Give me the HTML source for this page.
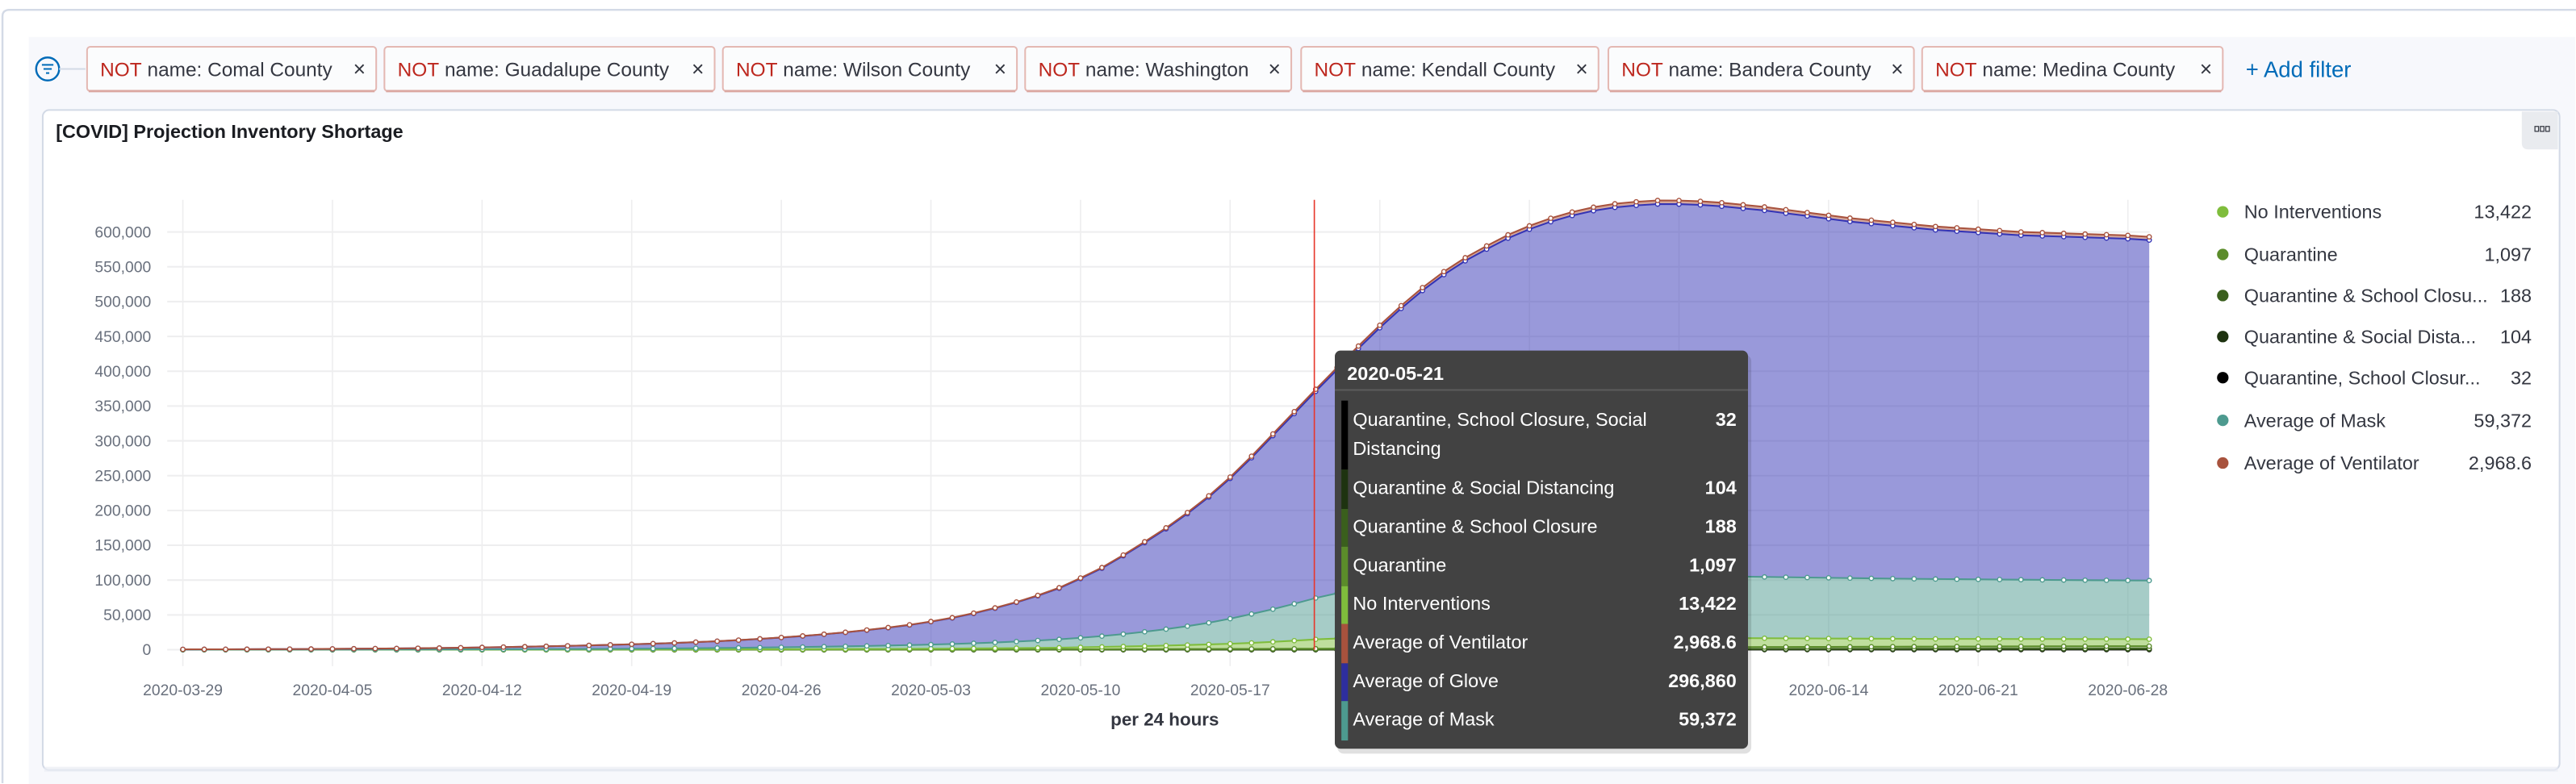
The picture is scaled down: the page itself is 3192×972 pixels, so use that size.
<!DOCTYPE html>
<html><head><meta charset="utf-8">
<style>
html,body{margin:0;padding:0;background:#fff;}
svg{display:block;font-family:"Liberation Sans",sans-serif;}
</style></head>
<body>
<svg id="root" width="3192" height="972" viewBox="0 0 1568 477.5" preserveAspectRatio="none" xmlns="http://www.w3.org/2000/svg">
  <rect x="0" y="0" width="1568" height="477.5" fill="#fff"/>
  <path d="M1.5,477 L1.5,10 Q1.5,6 6,6 L1568,6" fill="none" stroke="#d3dae6" stroke-width="1.2"/>
  <rect x="17.5" y="22.5" width="1550" height="455" fill="#f7f8fc"/>
  <g>
    <circle cx="29" cy="42" r="7" fill="none" stroke="#006bb8" stroke-width="1.2"/>
    <line x1="25.5" y1="39.5" x2="32.5" y2="39.5" stroke="#006bb8" stroke-width="1"/>
    <line x1="26.5" y1="42" x2="31.5" y2="42" stroke="#006bb8" stroke-width="1"/>
    <line x1="28" y1="44.5" x2="30" y2="44.5" stroke="#006bb8" stroke-width="1"/>
    <line x1="36" y1="42" x2="52" y2="42" stroke="#d3dae6" stroke-width="1"/>
  </g>
  <g id="pills"></g>
  <text x="1367" y="47" font-size="13.5" fill="#006bb8">+ Add filter</text>

  <rect x="26" y="67" width="1532" height="402" rx="4" fill="#fff" stroke="#d3dae6" stroke-width="1"/>
  <rect x="27" y="467" width="1530" height="3" fill="#e9edf3" opacity="0.7"/>
  <text x="34" y="84" font-size="11.5" font-weight="bold" fill="#1a1c21">[COVID] Projection Inventory Shortage</text>
  <g>
    <path d="M1535,68 L1557,68 L1557,91 L1539,91 Q1535,91 1535,87 Z" fill="#e9ebef"/>
    <rect x="1543" y="77" width="2.2" height="3" fill="none" stroke="#343741" stroke-width="0.6"/>
    <rect x="1546.3" y="77" width="2.2" height="3" fill="none" stroke="#343741" stroke-width="0.6"/>
    <rect x="1549.6" y="77" width="2.2" height="3" fill="none" stroke="#343741" stroke-width="0.6"/>
  </g>
  <g id="chart"></g>
  <g id="legend"></g>
  <g id="tooltip"></g>
</svg>
<script>
// ---- data (values in thousands) ----
const startDate = "2020-03-29";
const yTicks = [0,50000,100000,150000,200000,250000,300000,350000,400000,450000,500000,550000,600000];
const xTickLabels = ["2020-03-29","2020-04-05","2020-04-12","2020-04-19","2020-04-26","2020-05-03","2020-05-10","2020-05-17","2020-05-24","2020-05-31","2020-06-07","2020-06-14","2020-06-21","2020-06-28"];
const seriesNames = ["Quarantine, School Closure, Social Distancing","Quarantine & Social Distancing","Quarantine & School Closure","Quarantine","No Interventions","Average of Mask","Average of Glove","Average of Ventilator"];
const qscsd = [0,0,0,0,0,0,0,0,0,0,0,0,0,0,0,0,0,0,0,0,0,0,0,0,0,0,0,0,
 0,0,0,0,0.01,0.01,0.01,0.01,0.01,0.01,0.01,0.01,0.01,0.01,
 0.01,0.01,0.02,0.02,0.02,0.02,0.02,0.02,0.03,0.03,0.03,0.032,0.035,0.038,
 0.04,0.042,0.045,0.048,0.05,0.052,0.055,0.058,0.06,0.062,0.065,0.068,0.07,0.072,
 0.075,0.078,0.08,0.082,0.085,0.088,0.09,0.092,0.095,0.098,0.1,0.102,0.105,0.108,
 0.11,0.112,0.115,0.118,0.12,0.122,0.125,0.128,0.13];
const qsd = [0,0,0,0,0,0,0,0,0,0,0,0,0,0,
 0,0,0,0,0,0,0.01,0.01,0.01,0.01,0.01,0.01,0.01,0.01,
 0.01,0.01,0.01,0.01,0.02,0.02,0.02,0.02,0.02,0.02,0.03,0.03,0.03,0.03,
 0.04,0.04,0.05,0.05,0.06,0.06,0.07,0.07,0.08,0.09,0.1,0.104,0.11,0.12,
 0.13,0.14,0.15,0.16,0.17,0.18,0.19,0.2,0.21,0.22,0.23,0.24,0.25,0.26,
 0.27,0.28,0.29,0.3,0.31,0.32,0.33,0.34,0.35,0.36,0.37,0.38,0.39,0.4,
 0.41,0.42,0.43,0.44,0.45,0.46,0.47,0.48,0.49];
const qsc = [0,0,0,0,0,0,0,0,0,0,0,0,0.01,0.01,
 0.01,0.01,0.01,0.01,0.01,0.01,0.01,0.01,0.01,0.01,0.01,0.01,0.02,0.02,
 0.02,0.02,0.02,0.02,0.03,0.03,0.03,0.04,0.04,0.04,0.05,0.05,0.06,0.06,
 0.07,0.08,0.08,0.09,0.1,0.11,0.12,0.13,0.14,0.15,0.17,0.188,0.2,0.22,
 0.24,0.26,0.28,0.3,0.32,0.34,0.36,0.38,0.4,0.42,0.44,0.46,0.48,0.5,
 0.52,0.54,0.56,0.58,0.6,0.62,0.64,0.66,0.68,0.7,0.72,0.74,0.76,0.78,
 0.8,0.82,0.84,0.86,0.88,0.9,0.92,0.94,0.96];
const quarantine = [0,0,0,0,0,0.01,0.01,0.01,0.01,0.01,0.01,0.02,0.02,0.02,
 0.02,0.02,0.03,0.03,0.03,0.04,0.04,0.04,0.05,0.05,0.06,0.06,0.07,0.08,
 0.09,0.1,0.11,0.12,0.13,0.15,0.17,0.19,0.21,0.24,0.27,0.3,0.34,0.38,
 0.43,0.48,0.53,0.59,0.65,0.72,0.79,0.86,0.93,1.0,1.05,1.097,1.2,1.3,
 1.4,1.5,1.6,1.7,1.8,1.9,2.0,2.1,2.2,2.3,2.4,2.45,2.5,2.6,
 2.65,2.7,2.75,2.8,2.85,2.9,2.95,3.0,3.05,3.1,3.15,3.2,3.25,3.3,
 3.33,3.36,3.39,3.42,3.45,3.47,3.49,3.5,3.52];
const noInterventions = [0.01,0.01,0.01,0.02,0.02,0.02,0.03,0.03,0.04,0.04,0.05,0.06,0.07,0.08,
 0.09,0.1,0.12,0.14,0.16,0.18,0.2,0.23,0.26,0.3,0.34,0.38,0.43,0.49,
 0.55,0.62,0.7,0.78,0.87,0.97,1.08,1.2,1.35,1.5,1.7,1.9,2.15,2.4,
 2.9,3.4,3.9,4.5,5.1,5.8,6.6,7.5,8.6,10.0,11.6,13.422,14.5,15.3,
 15.9,16.3,16.5,16.5,16.4,16.2,16.0,15.7,15.4,15.1,14.8,14.5,14.2,13.9,
 13.6,13.3,13.0,12.8,12.6,12.4,12.2,12.0,11.8,11.6,11.4,11.2,11.0,10.9,
 10.8,10.7,10.6,10.5,10.4,10.3,10.2,10.1,10.0];
const mask = [0.05,0.06,0.07,0.08,0.09,0.1,0.12,0.14,0.16,0.19,0.22,0.26,0.3,0.35,
 0.4,0.47,0.55,0.64,0.74,0.86,1.0,1.15,1.3,1.5,1.7,1.95,2.2,2.5,
 2.8,3.1,3.5,3.9,4.3,4.8,5.3,5.9,6.6,7.4,8.3,9.4,10.6,12.0,
 13.6,15.5,17.8,20.5,23.6,27.1,31,36,41.5,47,53,59.372,65,70,
 74.5,78,81,83.5,85.5,87,88,89,89.5,90,90,90,89.8,89.6,
 89.3,89,88.7,88.4,88.1,87.8,87.5,87.2,86.9,86.6,86.4,86.2,86,85.8,
 85.6,85.4,85.2,85,84.8,84.6,84.5,84.3,84.2];
const glove = [0.44,0.48,0.51,0.59,0.68,0.76,0.83,1.01,1.18,1.34,1.5,1.74,1.99,2.32,
 2.75,3.17,3.55,4.04,4.51,5.06,5.69,6.31,7.01,7.76,8.7,9.69,10.96,12.37,
 13.97,15.77,17.76,20.05,22.71,25.58,28.92,32.85,37.43,42.9,49.21,56.3,64.23,73.45,
 85.13,97.56,112.56,128.06,144.1,161.62,180.63,201.42,224.48,249.22,273.26,296.86,320.96,345.71,
 370.17,393.95,416.34,436.56,454.3,469.66,484.53,496.53,507.04,515.57,522.61,527.67,530.95,533.23,
 533.63,533.04,531.56,528.98,526.4,522.84,519.27,515.7,512.13,509.56,506.88,504.2,501.53,499.84,
 498.16,496.43,494.69,493.95,493.21,492.47,491.62,490.88,489.05];
const ventilator = [0.004,0.004,0.005,0.006,0.006,0.007,0.008,0.01,0.011,0.013,0.014,0.017,0.019,0.022,
 0.026,0.03,0.034,0.039,0.044,0.05,0.056,0.062,0.07,0.078,0.087,0.098,0.11,0.125,
 0.14,0.16,0.18,0.2,0.23,0.25,0.29,0.32,0.37,0.42,0.48,0.55,0.62,0.71,
 0.82,0.94,1.09,1.24,1.4,1.58,1.77,1.98,2.22,2.48,2.74,2.9686,3.24,3.49,
 3.73,3.95,4.16,4.34,4.5,4.64,4.77,4.87,4.96,5.03,5.09,5.13,5.15,5.17,
 5.17,5.16,5.14,5.12,5.1,5.06,5.03,5.0,4.97,4.94,4.92,4.9,4.87,4.86,
 4.84,4.82,4.81,4.8,4.79,4.78,4.78,4.77,4.75];
const hoverIndex = 53;
const legendNames = ["No Interventions","Quarantine","Quarantine & School Closu...","Quarantine & Social Dista...","Quarantine, School Closur...","Average of Mask","Average of Ventilator"];
const legendValues = ["13,422","1,097","188","104","32","59,372","2,968.6"];
const tooltipLabels = ["Quarantine & Social Distancing","Quarantine & School Closure","Quarantine","No Interventions","Average of Ventilator","Average of Glove","Average of Mask"];
const tooltipValues = ["32","104","188","1,097","13,422","2,968.6","296,860","59,372"];
const filters = ["Comal County","Guadalupe County","Wilson County","Washington","Kendall County","Bandera County","Medina County"];

const NS="http://www.w3.org/2000/svg";
function mk(tag, attrs, parent){const e=document.createElementNS(NS,tag);for(const k in attrs)e.setAttribute(k,attrs[k]);if(parent)parent.appendChild(e);return e;}

// filter pills
const pillX=[53,234,440,624,792,979,1170], pillW=[176,201,179,162,181,186,183];
const pg=document.getElementById('pills');
filters.forEach((f,i)=>{
  const g=mk('g',{},pg);
  
  
  mk('rect',{x:pillX[i],y:28.5,width:pillW[i],height:27,rx:2,fill:'#fbfcfd',stroke:'#e4b8b3','stroke-width':1},g);
  mk('line',{x1:pillX[i]+1,y1:55.5,x2:pillX[i]+pillW[i]-1,y2:55.5,stroke:'#dba7a1','stroke-width':1.4},g);
  const t=mk('text',{x:pillX[i]+8,y:46.5,'font-size':12,fill:'#343741'},g);
  const n=mk('tspan',{fill:'#bd271e'},t); n.textContent='NOT';
  const r=mk('tspan',{},t); r.textContent=' name: '+f;
  const x=mk('text',{x:pillX[i]+pillW[i]-14,y:46.5,'font-size':13,fill:'#343741'},g); x.textContent='×';
  
  
});

// axes
const X0=111.3, DX=13.01, Y0=395.7, YK=0.000424;
const xs=i=>X0+i*DX;
const ys=v=>Y0-v*YK;
const chart=document.getElementById('chart');
const grid=mk('g',{},chart);


yTicks.forEach(v=>{
  if(v>0) mk('line',{x1:101.8,x2:1308.5,y1:ys(v),y2:ys(v),stroke:'#eeeeef','stroke-width':1},grid);
  const t=mk('text',{x:92,y:ys(v)+3.3,'text-anchor':'end','font-size':9.5,fill:'#69707d'},grid);
  t.textContent=v.toLocaleString('en-US');
  
  
});
xTickLabels.forEach((lab,k)=>{
  const x=xs(k*7);
  mk('line',{x1:x,x2:x,y1:121.7,y2:405.7,stroke:'#eeeeef','stroke-width':0.8},grid);
  const t=mk('text',{x:x,y:423.5,'text-anchor':'middle','font-size':9.5,fill:'#69707d'},grid);
  t.textContent=lab;
  
  
});
mk('line',{x1:101.8,x2:1308.5,y1:Y0,y2:Y0,stroke:'#eeeeef','stroke-width':1},grid);
const at=mk('text',{x:709,y:442,'text-anchor':'middle','font-size':11,'font-weight':'bold',fill:'#343741'},chart);
at.textContent='per 24 hours';



// stacked series
const stack=[
 {k:'qscsd',d:qscsd,c:'#000000'},
 {k:'qsd',d:qsd,c:'#1e3310'},
 {k:'qsc',d:qsc,c:'#3a5f1d'},
 {k:'quarantine',d:quarantine,c:'#5b8c2a'},
 {k:'no-interventions',d:noInterventions,c:'#7fbd3c'},
 {k:'mask',d:mask,c:'#4d9a8f'},
 {k:'glove',d:glove,c:'#3434b5'},
 {k:'ventilator',d:ventilator,c:'#a8523d'}];
const n=glove.length;
let base=new Array(n).fill(0);
const layers=[];
stack.forEach(s=>{
  const top=s.d.map((v,i)=>base[i]+v*1000);
  layers.push({s:s,top:top,bot:base.slice()});
  base=top;
});
layers.forEach(L=>{
  let d='M'+xs(0)+','+ys(L.top[0]);
  for(let i=1;i<n;i++) d+=' L'+xs(i)+','+ys(L.top[i]);
  for(let i=n-1;i>=0;i--) d+=' L'+xs(i)+','+ys(L.bot[i]);
  const a=mk('path',{d:d+'Z',fill:L.s.c,'fill-opacity':0.5,stroke:'none'},chart);
  
  
});
layers.forEach(L=>{
  let d='M'+xs(0)+','+ys(L.top[0]);
  for(let i=1;i<n;i++) d+=' L'+xs(i)+','+ys(L.top[i]);
  const l=mk('path',{d:d,fill:'none',stroke:L.s.c,'stroke-width':1},chart);
  
  
  const pts=mk('g',{},chart);
  
  
  for(let i=0;i<n;i++) mk('circle',{cx:xs(i),cy:ys(L.top[i]),r:1.3,fill:'#fff',stroke:L.s.c,'stroke-width':0.7},pts);
});
const ch=mk('line',{x1:xs(hoverIndex)-0.8,x2:xs(hoverIndex)-0.8,y1:121.7,y2:Y0,stroke:'#e7372c','stroke-width':0.8},chart);



// legend
const lg=document.getElementById('legend');
const legendColors=['#7fbd3c','#5b8c2a','#3a5f1d','#1e3310','#000000','#4d9a8f','#a8523d'];
const legendY=[129,155,180,205,230,256,282];
legendNames.forEach((nm,i)=>{
  const g=mk('g',{},lg);
  
  
  mk('circle',{cx:1353,cy:legendY[i],r:3.5,fill:legendColors[i]},g);
  const t=mk('text',{x:1366,y:legendY[i]+4,'font-size':11.5,fill:'#343741'},g); t.textContent=nm;
  const v=mk('text',{x:1541,y:legendY[i]+4,'font-size':11.5,fill:'#343741','text-anchor':'end'},g); v.textContent=legendValues[i];
});

// tooltip
const tt=document.getElementById('tooltip');
mk('rect',{x:814,y:216,width:252,height:243,rx:4,fill:'#000','opacity':0.12},tt);
mk('rect',{x:812.5,y:213.5,width:251.5,height:242.5,rx:3.5,fill:'#424242'},tt);
const th=mk('text',{x:820,y:231.5,'font-size':11.5,'font-weight':'bold',fill:'#fff'},tt); th.textContent='2020-05-21';
mk('line',{x1:812.5,x2:1064,y1:237.5,y2:237.5,stroke:'#5c5c5c','stroke-width':1},tt);
const barColors=['#000000','#1e3310','#3a5f1d','#5b8c2a','#7fbd3c','#a8523d','#2e2e9e','#4d9a8f'];
const barY=[244,286,310,333,357,380,404,427,451];
barColors.forEach((c,i)=>mk('rect',{x:816.5,y:barY[i],width:4,height:barY[i+1]-barY[i],fill:c},tt));
const rowY=[259.5,301,324.5,348,371.5,395,418.5,442];
const t1=mk('text',{x:823.5,y:259.5,'font-size':11.5,fill:'#fff'},tt); t1.textContent='Quarantine, School Closure, Social';
const t2=mk('text',{x:823.5,y:277,'font-size':11.5,fill:'#fff'},tt); t2.textContent='Distancing';
tooltipLabels.forEach((lab,i)=>{
  const t=mk('text',{x:823.5,y:rowY[i+1],'font-size':11.5,fill:'#fff'},tt); t.textContent=lab;
});
tooltipValues.forEach((v,i)=>{
  const t=mk('text',{x:1057,y:rowY[i],'font-size':11.5,'font-weight':'bold',fill:'#fff','text-anchor':'end'},tt); t.textContent=v;
});
</script>
</body></html>
